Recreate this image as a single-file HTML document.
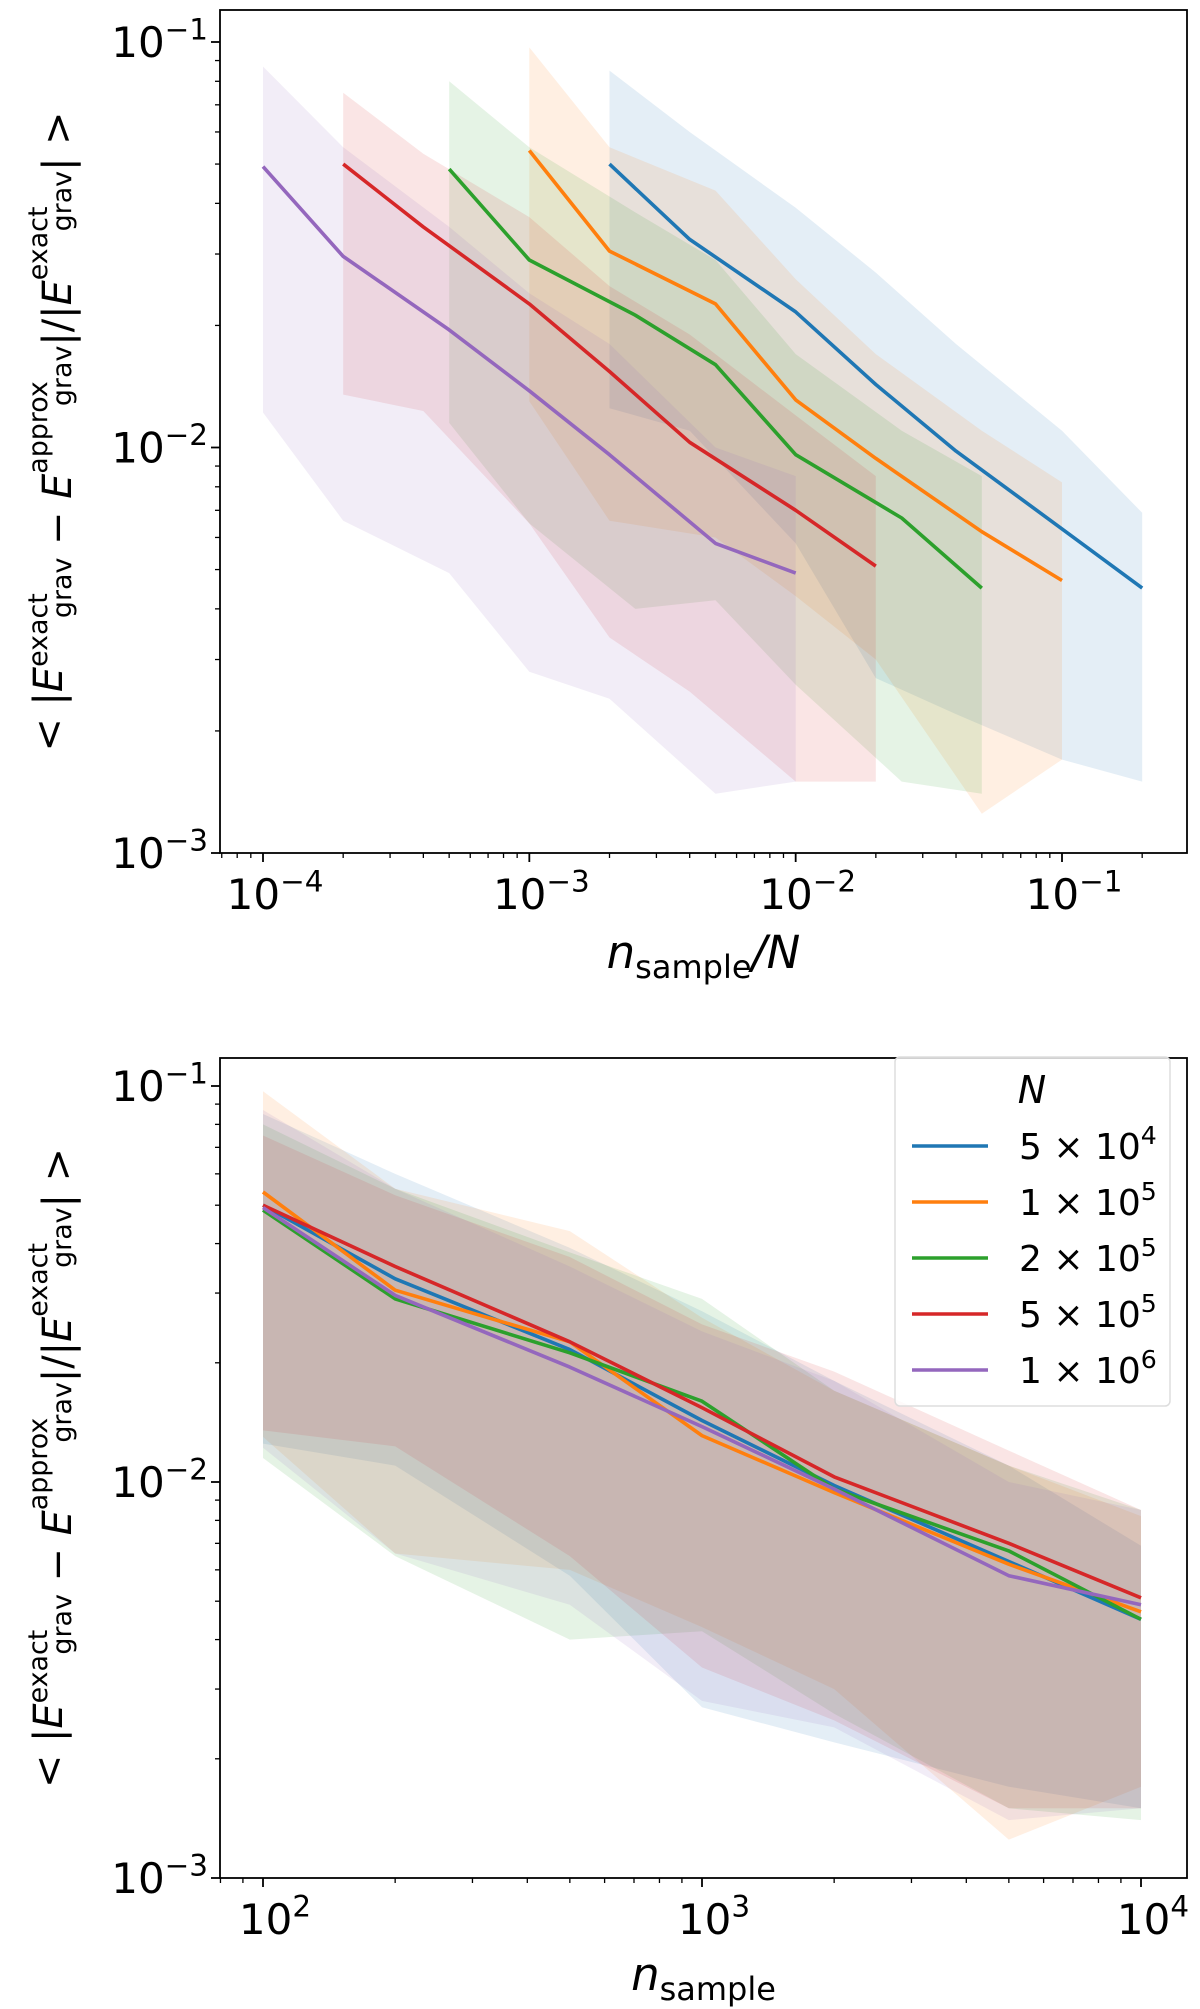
<!DOCTYPE html>
<html><head><meta charset="utf-8"><style>
html,body{margin:0;padding:0;background:#fff}
svg{display:block;font-family:"DejaVu Sans","Liberation Sans",sans-serif}
</style></head><body>
<svg id="fig" width="1200" height="2009" viewBox="0 0 1200 2009" xmlns="http://www.w3.org/2000/svg"></svg>
<script>
const nSample = [100, 200, 500, 1000, 2000, 5000, 10000];
const seriesN = [5e4, 1e5, 2e5, 5e5, 1e6];
const seriesLabels = ["5 × 10^4", "1 × 10^5", "2 × 10^5", "5 × 10^5", "1 × 10^6"];
const seriesNames = ["n5e4", "n1e5", "n2e5", "n5e5", "n1e6"];
const colors = ["#1f77b4", "#ff7f0e", "#2ca02c", "#d62728", "#9467bd"];
const meanBlue   = [0.050, 0.0326, 0.0216, 0.0143, 0.0098, 0.0063, 0.0045];
const meanOrange = [0.054, 0.0305, 0.0226, 0.0131, 0.0094, 0.0062, 0.0047];
const meanGreen  = [0.0486, 0.029, 0.0212, 0.016, 0.0096, 0.0067, 0.0045];
const meanRed    = [0.050, 0.035, 0.0226, 0.0154, 0.0103, 0.0070, 0.0051];
const meanPurple = [0.0493, 0.0296, 0.0195, 0.0138, 0.0096, 0.0058, 0.0049];
const upBlue   = [0.085, 0.060, 0.039, 0.027, 0.018, 0.011, 0.0069];
const upOrange = [0.097, 0.055, 0.043, 0.026, 0.017, 0.011, 0.0082];
const upGreen  = [0.080, 0.055, 0.038, 0.029, 0.017, 0.011, 0.0085];
const upRed    = [0.075, 0.053, 0.037, 0.025, 0.019, 0.012, 0.0085];
const upPurple = [0.087, 0.055, 0.035, 0.024, 0.018, 0.010, 0.0085];
const loBlue   = [0.0125, 0.011, 0.0058, 0.0027, 0.0022, 0.0017, 0.0015];
const loOrange = [0.013, 0.0066, 0.0060, 0.0043, 0.0030, 0.00125, 0.0017];
const loGreen  = [0.0115, 0.0065, 0.0040, 0.0042, 0.0026, 0.0015, 0.0014];
const loRed    = [0.0135, 0.0123, 0.0065, 0.0034, 0.0025, 0.0015, 0.0015];
const loPurple = [0.0122, 0.0066, 0.0049, 0.0028, 0.0024, 0.0014, 0.0015];
const yTickExp = [-3, -2, -1];
const xTickExpTop = [-4, -3, -2, -1];
const xTickExpBot = [2, 3, 4];

const means = [meanBlue, meanOrange, meanGreen, meanRed, meanPurple];
const ups = [upBlue, upOrange, upGreen, upRed, upPurple];
const los = [loBlue, loOrange, loGreen, loRed, loPurple];

const NS = "http://www.w3.org/2000/svg";
const svg = document.getElementById("fig");
function el(tag, attrs, parent) {
  const e = document.createElementNS(NS, tag);
  for (const k in attrs) e.setAttribute(k, attrs[k]);
  (parent || svg).appendChild(e);
  return e;
}
function logScale(d0, d1, p0, p1) {
  const a = Math.log10(d0), b = Math.log10(d1);
  return v => p0 + (Math.log10(v) - a) / (b - a) * (p1 - p0);
}
function powText(parent, x, y, base, exp, anchor, size) {
  const t = el("text", {x: x, y: y, "text-anchor": anchor, "font-size": size, fill: "#000"}, parent);
  const a = el("tspan", {}, t); a.textContent = base;
  const b = el("tspan", {dy: -size * 0.42, "font-size": size * 0.7}, t); b.textContent = exp;
  return t;
}
function yLabel(parent, cx, cy) {
  const t = el("text", {transform: `translate(${cx},${cy}) rotate(-90)`, "text-anchor": "middle", "font-size": 40, fill: "#000", textLength: 640, lengthAdjust: "spacingAndGlyphs"}, parent);
  const parts = [
    ["< |", 0, 40, "normal"], ["E", 0, 40, "italic"], ["exact", -15, 27, "normal"], ["grav", 0, 27, "normal", -25],
    [" − ", 0, 40, "normal", 9], ["E", 0, 40, "italic"], ["approx", -15, 27, "normal"], ["grav", 0, 27, "normal", -25],
    ["|/|", 0, 40, "normal", 9], ["E", 0, 40, "italic"], ["exact", -15, 27, "normal"], ["grav", 0, 27, "normal", -25], ["| >", 0, 40, "normal", 9]
  ];
  let prevShift = 0;
  parts.forEach(p => {
    const ts = el("tspan", {"font-size": p[2], "font-style": p[3]}, t);
    if (p[0] === "grav") { ts.setAttribute("dx", p[4]); ts.setAttribute("dy", 24); prevShift = 9; }
    else if (p[1] !== 0) { ts.setAttribute("dy", p[1] - (prevShift ? 9 : 0)); prevShift = p[1]; }
    else if (p[4]) { ts.setAttribute("dy", 0); }
    ts.textContent = p[0];
  });
  return t;
}

function drawAxes(cfg) {
  const g = el("g", {});
  
  
  const {L, R, T, B} = cfg;
  const xs = cfg.xs, ys = cfg.ys;
  const cid = cfg.name + "-clip";
  const defs = el("defs", {}, g);
  const cp = el("clipPath", {id: cid}, defs);
  el("rect", {x: L, y: T, width: R - L, height: B - T}, cp);
  const plot = el("g", {"clip-path": `url(#${cid})`}, g);
  for (let s = 0; s < seriesN.length; s++) {
    const xv = nSample.map(n => cfg.xOf(n, seriesN[s]));
    let d = "";
    xv.forEach((x, i) => { d += (i ? "L" : "M") + xs(x).toFixed(1) + "," + ys(ups[s][i]).toFixed(1); });
    for (let i = xv.length - 1; i >= 0; i--) d += "L" + xs(xv[i]).toFixed(1) + "," + ys(los[s][i]).toFixed(1);
    const p = el("path", {d: d + "Z", fill: colors[s], "fill-opacity": 0.12, stroke: "none"}, plot);
    
    
  }
  for (let s = 0; s < seriesN.length; s++) {
    const xv = nSample.map(n => cfg.xOf(n, seriesN[s]));
    const pts = xv.map((x, i) => xs(x).toFixed(1) + "," + ys(means[s][i]).toFixed(1)).join(" ");
    const p = el("polyline", {points: pts, fill: "none", stroke: colors[s], "stroke-width": 3.6, "stroke-linejoin": "round"}, plot);
    
    
  }
  const fr = el("rect", {x: L, y: T, width: R - L, height: B - T, fill: "none", stroke: "#000", "stroke-width": 1.8}, g);
  
  
  const yt = el("g", {}, g);
  
  
  for (let e = yTickExp[0]; e <= yTickExp[yTickExp.length - 1]; e++) {
    for (let m = 1; m < 10; m++) {
      const v = m * Math.pow(10, e);
      const y = ys(v);
      if (y < T - 0.5 || y > B + 0.5) continue;
      el("line", {x1: L, x2: L - (m === 1 ? 9 : 5), y1: y, y2: y, stroke: "#000", "stroke-width": m === 1 ? 1.8 : 1.3}, yt);
    }
  }
  yTickExp.forEach(e => {
    const t = powText(yt, 208, ys(Math.pow(10, e)) + 15, "10", "−" + Math.abs(e), "end", 42);
    
    
  });
  const xt = el("g", {}, g);
  
  
  const ex = cfg.xTickExp;
  for (let e = ex[0] - 1; e <= ex[ex.length - 1]; e++) {
    for (let m = 1; m < 10; m++) {
      const v = m * Math.pow(10, e);
      const x = xs(v);
      if (x < L - 0.5 || x > R + 0.5) continue;
      el("line", {x1: x, x2: x, y1: B, y2: B + (m === 1 ? 9 : 5), stroke: "#000", "stroke-width": m === 1 ? 1.8 : 1.3}, xt);
    }
  }
  ex.forEach(e => {
    const t = powText(xt, xs(Math.pow(10, e)) + 12, B + 56, "10", (e < 0 ? "−" : "") + Math.abs(e), "middle", 42);
    
    
  });
  const yl = yLabel(g, 62, (T + B) / 2);
  
  
  const xl = el("text", {x: (L + R) / 2, y: cfg.xLabelY, "text-anchor": "middle", "font-size": 45, fill: "#000"}, g);
  
  
  const a = el("tspan", {"font-style": "italic"}, xl); a.textContent = "n";
  const b = el("tspan", {"font-size": 32, dy: 10}, xl); b.textContent = "sample";
  if (cfg.perN) {
    const c = el("tspan", {dy: -10, "font-style": "italic"}, xl); c.textContent = "/N";
  }
  return g;
}

drawAxes({name: "top-panel", L: 220, R: 1187, T: 10, B: 853,
  xs: logScale(1e-4, 1e-1, 263, 1062), ys: logScale(1e-3, 1e-1, 853, 42),
  xOf: (n, N) => n / N, xTickExp: xTickExpTop, xLabelY: 968, perN: true});
drawAxes({name: "bottom-panel", L: 220, R: 1187, T: 1058, B: 1878,
  xs: logScale(1e2, 1e4, 263, 1141), ys: logScale(1e-3, 1e-1, 1878, 1086),
  xOf: (n, N) => n, xTickExp: xTickExpBot, xLabelY: 1990, perN: false});

const lg = el("g", {});


el("rect", {x: 895, y: 1057, width: 275, height: 349, rx: 5, fill: "#fff", "fill-opacity": 0.8, stroke: "#ddd", "stroke-width": 1.5}, lg);
const lt = el("text", {x: 1032, y: 1103, "text-anchor": "middle", "font-size": 38, "font-style": "italic", fill: "#000"}, lg);


lt.textContent = "N";
seriesLabels.forEach((lab, i) => {
  const y = 1146 + i * 56;
  const ge = el("g", {}, lg);
  
  
  el("line", {x1: 912, x2: 988, y1: y, y2: y, stroke: colors[i], "stroke-width": 3.6}, ge);
  const parts = lab.split("^");
  powText(ge, 1019, y + 13, parts[0], parts[1], "start", 36);
});
</script>
</body></html>
